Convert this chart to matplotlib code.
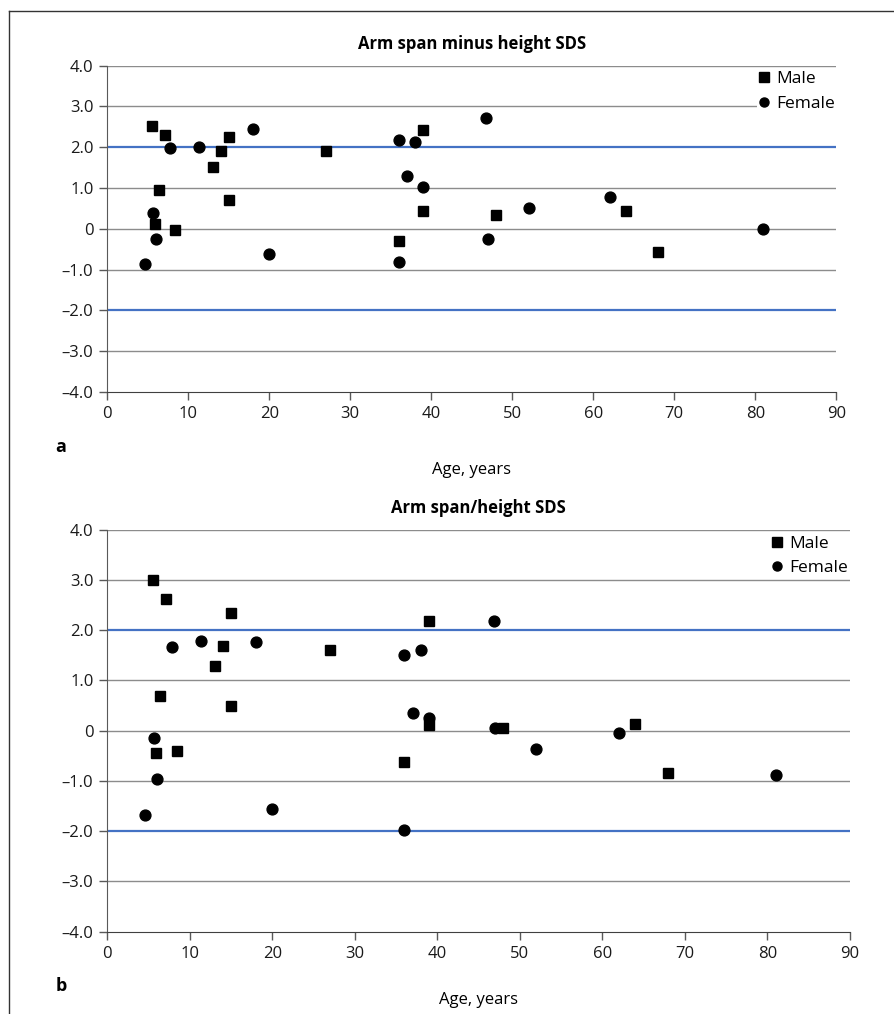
import matplotlib
matplotlib.use("Agg")
import matplotlib.pyplot as plt
from matplotlib.lines import Line2D

plt.rcParams["font.family"] = ["Open Sans", "DejaVu Sans"]

# ages (same patients in both panels)
male_age = [5.5, 7.1, 14, 13, 15, 27, 6.4, 15, 5.9, 8.4, 39, 39, 48, 36, 64, 68]
female_age = [7.8, 11.3, 18, 5.7, 6, 4.6, 20, 36, 38, 46.8, 37, 39, 52, 62, 47, 36, 81]

# panel a: arm span minus height SDS
male_diff = [2.53, 2.30, 1.91, 1.51, 2.26, 1.92, 0.96, 0.71, 0.11, -0.02,
             2.42, 0.43, 0.34, -0.31, 0.43, -0.56]
female_diff = [1.97, 2.01, 2.45, 0.39, -0.26, -0.85, -0.61, 2.17, 2.14, 2.71,
               1.29, 1.03, 0.52, 0.79, -0.25, -0.82, 0.0]

# panel b: arm span/height SDS
male_ratio = [2.99, 2.63, 1.68, 1.28, 2.35, 1.60, 0.70, 0.49, -0.45, -0.40,
              2.19, 0.11, 0.05, -0.63, 0.13, -0.84]
female_ratio = [1.66, 1.78, 1.77, -0.15, -0.97, -1.68, -1.55, 1.51, 1.61, 2.18,
                0.35, 0.26, -0.36, -0.05, 0.06, -1.97, -0.89]

limits = [2.0, -2.0]
x_ticks = [0, 10, 20, 30, 40, 50, 60, 70, 80, 90]
y_ticks = [-4, -3, -2, -1, 0, 1, 2, 3, 4]
y_tick_labels = ["\u20134.0", "\u20133.0", "\u20132.0", "\u20131.0", "0",
                 "1.0", "2.0", "3.0", "4.0"]

W, H = 895, 1014
fig = plt.figure(figsize=(W / 100, H / 100), dpi=100)


def fx(px):
    return px / W


def fy(py):
    return 1 - py / H


panels = [
    # y values, title, letter, left/right/top/bottom in px, title y, xlabel y, letter y
    (male_diff, female_diff, "Arm span minus height SDS", "a",
     (107.3, 836.3, 65.7, 392), 44, 470, 447),
    (male_ratio, female_ratio, "Arm span/height SDS", "b",
     (107.3, 850, 529.7, 931.7), 508, 1000, 986),
]

for male_y, female_y, title, letter, box, title_y, xlab_y, let_y in panels:
    l, r, t, b = box
    ax = fig.add_axes([fx(l), fy(b), fx(r - l), (b - t) / H])

    for v in y_ticks:
        if v not in limits and v != -4:
            ax.axhline(v, color="#8c8c8c", lw=1.0, zorder=1)
    for v in limits:
        ax.axhline(v, color="#4472c4", lw=1.6, zorder=1)

    ax.plot(male_age, male_y, "s", color="black", ms=7.4, ls="none",
            zorder=3)
    ax.plot(female_age, female_y, "o", color="black", ms=7.8, ls="none",
            zorder=3)

    ax.set_xlim(0, 90)
    ax.set_ylim(-4, 4)
    ax.set_xticks(x_ticks)
    ax.set_yticks(y_ticks)
    ax.set_yticklabels(y_tick_labels)
    ax.tick_params(direction="out", length=6, width=1, color="#595959",
                   labelsize=12, pad=4, labelcolor="#1a1a1a")

    for s in ["top", "right"]:
        ax.spines[s].set_visible(False)
    ax.spines["left"].set_color("#595959")
    ax.spines["bottom"].set_color("#404040")

    handles = [
        Line2D([], [], marker="s", color="black", ls="none", ms=6.5),
        Line2D([], [], marker="o", color="black", ls="none", ms=6.5),
    ]
    leg = ax.legend(handles, ["Male", "Female"], loc="upper right",
                    bbox_to_anchor=(1.0, 0.99), borderaxespad=0,
                    frameon=True, fancybox=False, facecolor="white",
                    edgecolor="none", framealpha=1, fontsize=12.5,
                    handlelength=0.6, handletextpad=0.4, labelspacing=0.5,
                    borderpad=0.1)
    leg.set_zorder(4)

    cx = fx((l + r) / 2)
    fig.text(cx, fy(title_y), title, ha="center", va="center",
             fontsize=12, fontweight="bold")
    fig.text(cx, fy(xlab_y), "Age, years", ha="center", va="center",
             fontsize=12)
    fig.text(fx(61), fy(let_y), letter, ha="center", va="center",
             fontsize=13, fontweight="bold")

# outer frame (top and left edges only)
fig.add_artist(Line2D([fx(9.5), 1], [fy(11), fy(11)], color="#333333",
                      lw=1, transform=fig.transFigure))
fig.add_artist(Line2D([fx(9.5), fx(9.5)], [fy(11), 0], color="#333333",
                      lw=1, transform=fig.transFigure))

fig.savefig("out.png", dpi=100)
plt.close(fig)
